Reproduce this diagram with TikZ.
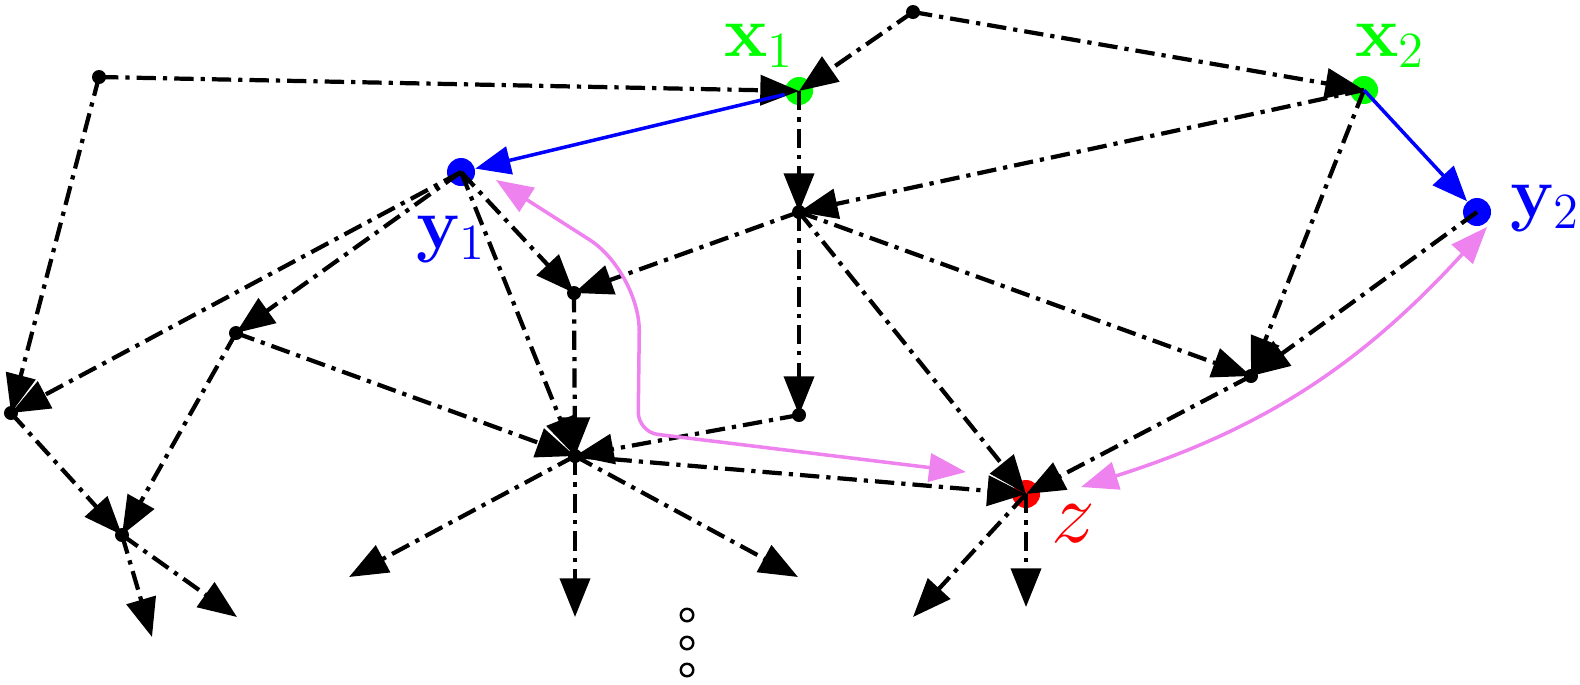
\documentclass[tikz,border=0pt]{standalone}
\usetikzlibrary{arrows.meta}
\definecolor{lightviolet}{RGB}{238,130,238}
\begin{document}
\begin{tikzpicture}[x=0.01cm, y=-0.01cm]
    \tikzstyle{vertex} = [circle, fill=black, inner sep=0pt, minimum size=0.14cm]
    \tikzstyle{source} = [circle, fill=green, inner sep=0pt, minimum size=0.28cm]
    \tikzstyle{target} = [circle, fill=blue, inner sep=0pt, minimum size=0.28cm]
    \tikzstyle{query} = [circle, fill=red, inner sep=0pt, minimum size=0.28cm]
    \tikzstyle{hole} = [circle, draw, line width=0.7pt, inner sep=0pt, minimum size=0.125cm]
    \tikzstyle{link} = [draw, line width=1.2pt, dash pattern=on 5.5pt off 2pt on 1.2pt off 2pt, -{Triangle[length=11pt,width=8.5pt]}]
    \tikzstyle{map} = [draw=blue, blue, line width=1pt, -{Triangle[length=10pt,width=8pt]}]
    \tikzstyle{pair} = [draw=lightviolet, lightviolet, line width=1pt, {Triangle[length=10.5pt,width=8pt]}-{Triangle[length=10.5pt,width=8pt]}]
    \tikzstyle{lbl} = [inner sep=0pt, font=\huge]

    \useasboundingbox (0,0) rectangle (1580,684);

    % vertices
    \node[vertex] (a) at (99,77) {};
    \node[vertex] (t) at (913,12) {};
    \node[source] (x1) at (799,91) {};
    \node[source] (x2) at (1364,90) {};
    \node[target] (y1) at (461,172) {};
    \node[target] (y2) at (1477,212) {};
    \node[vertex] (m) at (799,212) {};
    \node[vertex] (n) at (574,293) {};
    \node[vertex] (p) at (236,333) {};
    \node[vertex] (l) at (11,413) {};
    \node[vertex] (q) at (799,415) {};
    \node[vertex] (c) at (575,456) {};
    \node[vertex] (r) at (1251,376) {};
    \node[query] (z) at (1026,494) {};
    \node[vertex] (b) at (122,535) {};

    % loose ends
    \coordinate (b1) at (152,637);
    \coordinate (b2) at (237,617);
    \coordinate (c1) at (349,577);
    \coordinate (c2) at (575,617);
    \coordinate (c3) at (798,577);
    \coordinate (z1) at (913,617);
    \coordinate (z2) at (1026,607);

    \node[hole] (o1) at (687,615) {};
    \node[hole] (o2) at (687,643) {};
    \node[hole] (o3) at (687,670) {};

    % labels
    \node[lbl, green] (lx1) at (759,46) {$\mathbf{x}_1$};
    \node[lbl, green] (lx2) at (1390,46) {$\mathbf{x}_2$};
    \node[lbl, blue] (ly1) at (451,239) {$\mathbf{y}_1$};
    \node[lbl, blue] (ly2) at (1545,208) {$\mathbf{y}_2$};
    \node[lbl, red, font=\Huge] (lz) at (1073,524) {$z$};

    % graph edges
    \draw[link] (a.center) -- (x1.center);
    \draw[link] (a.center) -- (l.center);
    \draw[link] (t.center) -- (x1.center);
    \draw[link] (t.center) -- (x2.center);
    \draw[link] (x1.center) -- (m.center);
    \draw[link] (x2.center) -- (m.center);
    \draw[link] (x2.center) -- (r.center);
    \draw[link] (y1.center) -- (l.center);
    \draw[link] (y1.center) -- (p.center);
    \draw[link] (y1.center) -- (n.center);
    \draw[link] (y1.center) -- (c.center);
    \draw[link] (m.center) -- (n.center);
    \draw[link] (m.center) -- (q.center);
    \draw[link] (m.center) -- (z.center);
    \draw[link] (m.center) -- (r.center);
    \draw[link] (n.center) -- (c.center);
    \draw[link] (p.center) -- (c.center);
    \draw[link] (p.center) -- (b.center);
    \draw[link] (l.center) -- (b.center);
    \draw[link] (q.center) -- (c.center);
    \draw[link] (c.center) -- (z.center);
    \draw[link] (r.center) -- (z.center);
    \draw[link] (y2.center) -- (r.center);
    \draw[link] (b.center) -- (b1);
    \draw[link] (b.center) -- (b2);
    \draw[link] (c.center) -- (c1);
    \draw[link] (c.center) -- (c2);
    \draw[link] (c.center) -- (c3);
    \draw[link] (z.center) -- (z1);
    \draw[link] (z.center) -- (z2);

    % x -> y maps
    \draw[map] (x1) -- (y1);
    \draw[map] (x2.center) -- (y2);

    % pairs
    \draw[pair] ([shift={(35,8)}]y1.center) [rounded corners=0.6cm] -- (640,272) [rounded corners=0.2cm] -- (638,432) -- ([shift={(-60,-22)}]z.center);
    \draw[pair] ([shift={(55,-7)}]z.center) to[bend right=15] ([shift={(10,15)}]y2.center);
\end{tikzpicture}
\end{document}
